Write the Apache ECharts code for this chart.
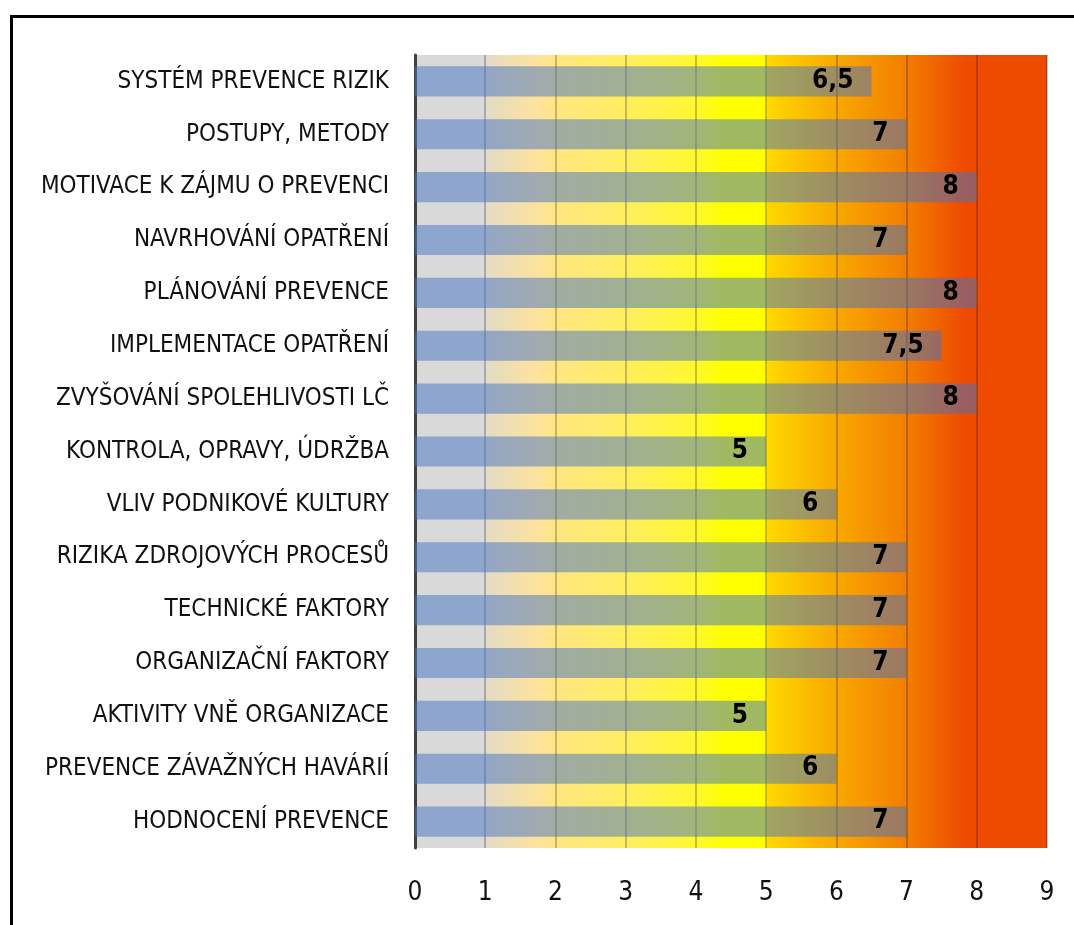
<!DOCTYPE html>
<html>
<head>
<meta charset="utf-8">
<script src="https://cdn.jsdelivr.net/npm/echarts@6/dist/echarts.min.js"></script>
<style>
  html, body { margin: 0; padding: 0; background: #ffffff; }
  #chart { width: 1074px; height: 925px; }
</style>
</head>
<body>
<div id="chart"></div>
<script>
// Categories, top to bottom
const categories = [
  'SYSTÉM PREVENCE RIZIK',
  'POSTUPY, METODY',
  'MOTIVACE K ZÁJMU O PREVENCI',
  'NAVRHOVÁNÍ OPATŘENÍ',
  'PLÁNOVÁNÍ PREVENCE',
  'IMPLEMENTACE OPATŘENÍ',
  'ZVYŠOVÁNÍ SPOLEHLIVOSTI LČ',
  'KONTROLA, OPRAVY, ÚDRŽBA',
  'VLIV PODNIKOVÉ KULTURY',
  'RIZIKA ZDROJOVÝCH PROCESŮ',
  'TECHNICKÉ FAKTORY',
  'ORGANIZAČNÍ FAKTORY',
  'AKTIVITY VNĚ ORGANIZACE',
  'PREVENCE ZÁVAŽNÝCH HAVÁRIÍ',
  'HODNOCENÍ PREVENCE'
];

// Score for each category
const values = [6.5, 7, 8, 7, 8, 7.5, 8, 5, 6, 7, 7, 7, 5, 6, 7];

// Value axis range
const axisMin = 0;
const axisMax = 9;
const axisStep = 1;

const FONT = "'Liberation Sans Narrow', 'DejaVu Sans Condensed', sans-serif";

// Risk scale painted behind the bars: grey → yellow → orange → red
const scaleFill = {
  type: 'linear', x: 0, y: 0, x2: 1, y2: 0,
  colorStops: [
    { offset: 0.000, color: '#D9D9D9' },
    { offset: 0.111, color: '#D9D9D9' },
    { offset: 0.114, color: '#E4DBC4' },
    { offset: 0.200, color: '#FFE39A' },
    { offset: 0.222, color: '#FFE682' },
    { offset: 0.333, color: '#FFEE60' },
    { offset: 0.444, color: '#FFF830' },
    { offset: 0.490, color: '#FFFF00' },
    { offset: 0.554, color: '#FFFF00' },
    { offset: 0.558, color: '#FFD800' },
    { offset: 0.667, color: '#F8A800' },
    { offset: 0.777, color: '#F37E00' },
    { offset: 0.870, color: '#EE4A00' },
    { offset: 1.000, color: '#EE4A00' }
  ]
};

const chart = echarts.init(document.getElementById('chart'), null, { renderer: 'canvas' });

chart.setOption({
  animation: false,
  backgroundColor: '#ffffff',
  textStyle: { fontFamily: FONT },
  graphic: [{
    type: 'rect',
    left: 9, top: 14,
    shape: { width: 1200, height: 1100 },
    style: { fill: 'none', stroke: '#000000', lineWidth: 3 },
    z: 100
  }],
  grid: {
    left: 415, right: 27, top: 55, bottom: 77,
    show: true,
    backgroundColor: scaleFill,
    borderWidth: 0
  },
  xAxis: {
    type: 'value',
    min: axisMin, max: axisMax, interval: axisStep,
    axisLine: { show: false },
    axisTick: { show: false },
    splitLine: { show: true, lineStyle: { color: 'rgba(0,0,0,0.22)', width: 2 } },
    axisLabel: { margin: 32, fontSize: 26, color: '#111', fontFamily: FONT }
  },
  yAxis: {
    type: 'category',
    data: categories,
    inverse: true,
    axisLine: { show: true, lineStyle: { color: '#404040', width: 3 } },
    axisTick: { show: false },
    axisLabel: { margin: 26, fontSize: 24, color: '#111', fontFamily: FONT }
  },
  series: [{
    type: 'bar',
    data: values,
    barCategoryGap: '43%',
    itemStyle: { color: 'rgba(68,114,196,0.5)' },
    label: {
      show: true,
      position: 'insideRight',
      distance: 18,
      fontSize: 26,
      fontWeight: 'bold',
      color: '#000',
      fontFamily: FONT,
      formatter: p => String(p.value).replace('.', ',')
    }
  }]
});
</script>
</body>
</html>
